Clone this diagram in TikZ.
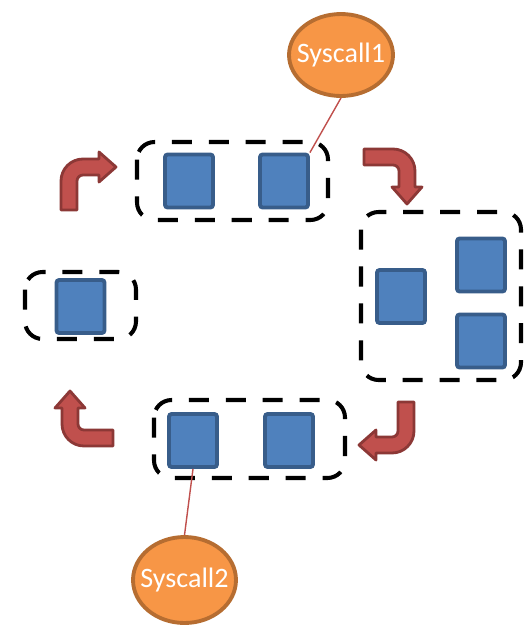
\documentclass[tikz,border=0pt]{standalone}
\usepackage{fontspec}
\setmainfont{Carlito}
\usetikzlibrary{shapes.geometric}

\definecolor{sqfill}{HTML}{4F81BD}
\definecolor{sqedge}{HTML}{385D8A}
\definecolor{arrfill}{HTML}{C0504D}
\definecolor{arredge}{HTML}{8C3836}
\definecolor{callfill}{HTML}{F79646}
\definecolor{calledge}{HTML}{B66D31}

\tikzset{
	sq/.style={draw=sqedge, fill=sqfill, line width=2.2pt, rounded corners=1.5pt,
		minimum width=0.96cm, minimum height=1.06cm, inner sep=0pt},
	grp/.style={draw=black, line width=2.3pt, dash pattern=on 11.4pt off 9.6pt, rounded corners=10pt},
	call/.style={ellipse, draw=calledge, fill=callfill, line width=2.2pt, inner sep=0pt},
	calltext/.style={text=white, font=\fontsize{16}{18}\selectfont},
	link/.style={draw=arrfill, line width=0.8pt},
	bentarr/.pic={
		\draw[draw=arredge, fill=arrfill, line width=1.6pt, line join=round]
			(-8,0) -- (-8,29) arc[start angle=180, end angle=90, radius=22]
			-- (30,51) -- (30,58) -- (47,43) -- (30,28) -- (30,35) -- (14,35)
			arc[start angle=90, end angle=180, radius=6] -- (8,0) -- cycle;
	}
}

\begin{document}
\begin{tikzpicture}[x=0.02cm, y=0.02cm]
	\useasboundingbox (0,0) rectangle (528,-626);

	% dashed groups
	\draw[grp] (137,-142) rectangle (328,-220);
	\draw[grp] (361,-212) rectangle (521,-380);
	\draw[grp] (154,-400) rectangle (345,-478);
	\draw[grp] (25,-272) rectangle (136,-339);

	% tasks
	\node[sq] (t1) at (189,-181) {};
	\node[sq] (t2) at (284,-181) {};
	\node[sq] (r1) at (401,-296.5) {};
	\node[sq] (r2) at (481,-265) {};
	\node[sq] (r3) at (481,-341) {};
	\node[sq] (b1) at (193,-440.5) {};
	\node[sq] (b2) at (289,-440.5) {};
	\node[sq] (l1) at (80.5,-306.5) {};

	% turn arrows
	\pic at (69,-210) {bentarr};
	\pic[rotate=-90] at (364,-157) {bentarr};
	\pic[rotate=180] at (406,-402) {bentarr};
	\pic[rotate=90] at (113,-438) {bentarr};

	% syscalls
	\node[call, minimum width=2.08cm, minimum height=1.64cm] (sys1) at (341,-55) {};
	\node[calltext] at (sys1) {Syscall1};
	\node[call, minimum width=2.06cm, minimum height=1.72cm] (sys2) at (184.5,-580) {};
	\node[calltext] at (sys2) {Syscall2};

	\draw[link] (sys1.south) -- (t2.north east);
	\draw[link] (b1.south) -- (sys2.north);
\end{tikzpicture}
\end{document}
